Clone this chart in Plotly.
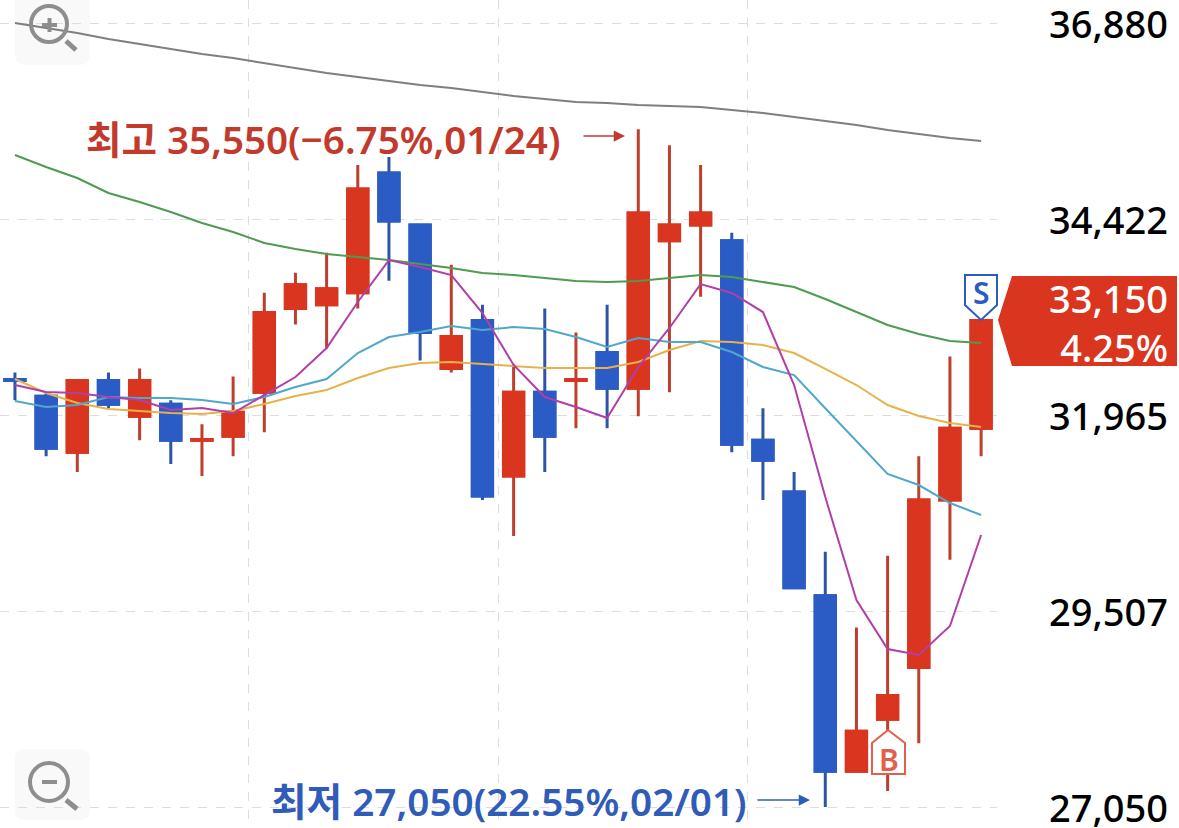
import plotly.graph_objects as go

# trading days, 12/22 to 02/08
dates = ['12/22','12/26','12/27','12/28','01/02','01/03','01/04','01/05','01/08','01/09','01/10',
         '01/11','01/12','01/15','01/16','01/17','01/18','01/19','01/22','01/23','01/24','01/25',
         '01/26','01/29','01/30','01/31','02/01','02/02','02/05','02/06','02/07','02/08']

opens = [32410,32200,31500,32400,31950,32100,31650,31700,32250,33300,33350,33500,35000,34350,32550,33150,
         31200,32250,32400,32750,32300,34150,34350,34150,31650,31000,29700,27500,28150,28800,30900,31800]
highs = [32500,32250,32400,32500,32550,32150,31850,32450,33500,33750,34000,35100,35200,34350,33850,33350,
         32600,33300,33000,33350,35550,35350,35100,34250,32050,31250,30250,29300,30200,31450,32700,33150]
lows = [32150,31450,31250,32050,31650,31350,31200,31450,31750,33100,32800,33300,33650,32650,32500,30900,
        30450,31250,31800,31800,31950,32250,33450,31500,30900,29800,27050,27500,27250,27850,30150,31450]
closes = [32400,31550,32400,32100,32400,31650,31660,32000,33250,33600,33550,34800,34400,33000,32950,30950,
          32250,31700,32410,32300,34500,34350,34500,31600,31400,29800,27500,28000,28450,30900,31800,33150]

ma5 = [32342,32254,32242,32191,32154,32028,32053,31991,32216,32442,32806,33383,33909,33822,33721,33245,
       32593,32191,32066,31928,32568,33057,33608,33496,33257,32342,30937,29646,29031,28956,29320,30461]
ma10 = [32141,32066,32091,32191,32179,32179,32154,32104,32191,32317,32417,32743,32944,33007,33082,33032,
        33069,33044,32944,32818,32931,32881,32881,32756,32568,32467,32050,31640,31226,31088,30862,30712]
ma20 = [32417,32242,32116,32041,32016,31991,31978,32016,32104,32204,32279,32430,32555,32618,32630,32605,
        32580,32555,32555,32555,32630,32781,32894,32881,32843,32743,32543,32342,32091,31953,31865,31815]
ma60 = [35226,35076,34938,34750,34637,34511,34373,34261,34123,34047,33985,33947,33909,33859,33809,33746,
        33721,33684,33646,33634,33646,33684,33721,33696,33634,33571,33420,33257,33094,32981,32894,32869]
ma120 = [36881,36819,36756,36681,36618,36555,36493,36442,36380,36317,36254,36204,36154,36104,36066,36016,
         35966,35928,35891,35878,35853,35841,35828,35790,35753,35703,35652,35602,35540,35489,35439,35402]

price_ticks = [27050,29507,31965,34422,36880]

RED = '#d9351f'
BLUE = '#2b5bc4'
WICK_RED = '#bd3f2e'
WICK_BLUE = '#2c55a6'
TXT_RED = '#c23a2c'
TXT_BLUE = '#2f5cb8'
FONT = 'Noto Sans, Noto Sans CJK KR'
W, H = 1179, 828
PLOT_RIGHT = 997

days = list(range(len(dates)))


# decorations are placed in screen pixels, paper coords are just px/size
def pp(x, y):
    return '%.5f %.5f' % (x / W, 1 - y / H)


def path(points):
    return 'M ' + ' L '.join(pp(x, y) for x, y in points) + ' Z'


def paper_shape(p, **kw):
    return dict(type='path', path=p, xref='paper', yref='paper', **kw)


def circle(cx, cy, r, **kw):
    return dict(type='circle', xref='paper', yref='paper', x0=(cx - r) / W, x1=(cx + r) / W,
                y0=1 - (cy + r) / H, y1=1 - (cy - r) / H, **kw)


def stroke(x0, y0, x1, y1, **kw):
    return dict(type='line', xref='paper', yref='paper', x0=x0 / W, x1=x1 / W,
                y0=1 - y0 / H, y1=1 - y1 / H, **kw)


def text(x, y, s, color, size, anchor='center', weight=500):
    return dict(xref='paper', yref='paper', x=x / W, y=1 - y / H, text=s, showarrow=False, align='right',
                xanchor=anchor, yanchor='middle', font=dict(family=FONT, size=size, color=color, weight=weight))


def round_box(x0, y0, x1, y1, r):
    return ('M %s L %s Q %s %s L %s Q %s %s L %s Q %s %s L %s Q %s %s Z' % (
        pp(x0 + r, y0), pp(x1 - r, y0), pp(x1, y0), pp(x1, y0 + r), pp(x1, y1 - r), pp(x1, y1), pp(x1 - r, y1),
        pp(x0 + r, y1), pp(x0, y1), pp(x0, y1 - r), pp(x0, y0 + r), pp(x0, y0), pp(x0 + r, y0)))


data = []
for values, col, w in [(ma120, '#7f7f7f', 2), (ma60, '#4d9c4f', 2), (ma20, '#e6b34a', 2),
                       (ma10, '#4fa8cc', 2), (ma5, '#b13fa8', 2)]:
    data.append(go.Scatter(x=days, y=values, mode='lines', line=dict(color=col, width=w), hoverinfo='skip'))

# wicks first, then the bodies again on top so the wick colour can stay darker
data.append(go.Candlestick(
    x=days, open=opens, high=highs, low=lows, close=closes, text=dates,
    increasing=dict(line=dict(color=WICK_RED, width=3), fillcolor=WICK_RED),
    decreasing=dict(line=dict(color=WICK_BLUE, width=3), fillcolor=WICK_BLUE),
    whiskerwidth=0
))
data.append(go.Candlestick(
    x=days, open=opens, close=closes, text=dates,
    high=[max(o, c) for o, c in zip(opens, closes)],
    low=[min(o, c) for o, c in zip(opens, closes)],
    increasing=dict(line=dict(color=RED, width=3), fillcolor=RED),
    decreasing=dict(line=dict(color=BLUE, width=3), fillcolor=BLUE),
    whiskerwidth=0
))

ICON = '#8e8e8e'
shapes = [
    # zoom buttons
    paper_shape(round_box(15, -10, 90, 65, 10), fillcolor='#f9f9f9', line=dict(width=0), layer='below'),
    paper_shape(round_box(15, 749, 90, 820, 10), fillcolor='#f9f9f9', line=dict(width=0), layer='below'),
    circle(49, 24, 18, line=dict(color=ICON, width=4)),
    stroke(66, 41, 76, 50, line=dict(color=ICON, width=5)),
    stroke(42, 25, 57, 25, line=dict(color=ICON, width=4)),
    stroke(49.5, 18, 49.5, 32, line=dict(color=ICON, width=4)),
    circle(49, 782, 19, line=dict(color=ICON, width=4)),
    stroke(66, 800, 77, 809, line=dict(color=ICON, width=5)),
    stroke(42, 782, 57, 782, line=dict(color=ICON, width=4)),
    # current price flag
    paper_shape(path([(998, 320), (1012, 276), (1177, 276), (1177, 366), (1012, 366)]),
                fillcolor=RED, line=dict(width=0)),
    # buy / sell markers
    paper_shape(path([(888, 730), (905, 743), (905, 774), (872, 774), (872, 743)]),
                fillcolor='white', line=dict(color='#e0604c', width=2)),
    paper_shape(path([(965, 275), (997, 275), (997, 305), (981, 320), (965, 305)]),
                fillcolor='white', line=dict(color=BLUE, width=2)),
]

annotations = [
    text(84, 139, '최고 35,550(−6.75%,01/24)', TXT_RED, 38.6, anchor='left', weight=600),
    text(269, 801, '최저 27,050(22.55%,02/01)', TXT_BLUE, 38.7, anchor='left', weight=600),
    # arrows to the high and the low
    dict(xref='paper', yref='paper', x=625 / W, y=1 - 136 / H, ax=-43, ay=0, text='', showarrow=True,
         arrowhead=2, arrowsize=1.5, arrowwidth=1.5, arrowcolor=TXT_RED),
    dict(xref='paper', yref='paper', x=810 / W, y=1 - 800 / H, ax=-54, ay=0, text='', showarrow=True,
         arrowhead=2, arrowsize=1.5, arrowwidth=1.5, arrowcolor=TXT_BLUE),
    text(1170, 323, '33,150<br>4.25%', 'white', 38, anchor='right', weight=500),
    text(888.5, 759, 'B', '#e0604c', 30, weight=600),
    text(981, 292, 'S', BLUE, 30, weight=600),
]

# price labels as annotations, the axis ones sit a few px too high
for p in price_ticks:
    annotations.append(dict(xref='paper', yref='y', x=1170 / W, y=p, text=format(p, ','), showarrow=False,
                            xanchor='right', yanchor='middle',
                            font=dict(family=FONT, size=38, color='black', weight=500)))

layout = go.Layout(
    width=W,
    height=H,
    margin=dict(l=0, r=0, t=0, b=0),
    paper_bgcolor='white',
    plot_bgcolor='white',
    showlegend=False,
    boxgap=0.07,
    xaxis=dict(domain=[0, PLOT_RIGHT / W], range=[-0.48, 31.51], tickvals=[7.5, 15.5, 23.5],
               showticklabels=False, ticks='', showgrid=True, gridcolor='#dddddd', griddash='dash', gridwidth=1,
               zeroline=False, showline=False, automargin=False, rangeslider=dict(visible=False)),
    yaxis=dict(side='right', range=[26787, 37170], tickvals=price_ticks, showticklabels=False, ticks='',
               automargin=False, showgrid=True, gridcolor='#dddddd', griddash='dash', gridwidth=1,
               zeroline=False, showline=False),
    shapes=shapes,
    annotations=annotations
)

fig = go.Figure(data=data, layout=layout)
fig.write_html("out.html", config={'displayModeBar': False}, post_script="document.body.style.margin='0';")
